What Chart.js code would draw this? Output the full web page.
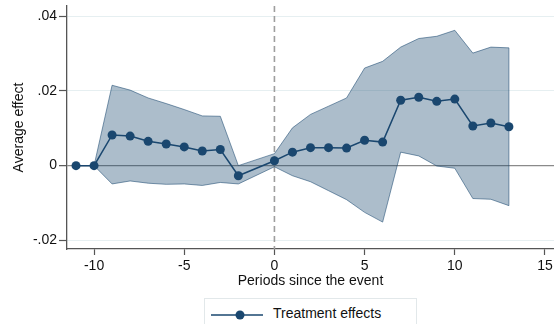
<!DOCTYPE html>
<html>
<head>
<meta charset="utf-8">
<script src="https://cdn.jsdelivr.net/npm/chart.js@4.4.1/dist/chart.umd.min.js"></script>
<style>
  html, body { margin: 0; padding: 0; background: #ffffff; }
  #wrap { position: relative; width: 554px; height: 324px; overflow: hidden; }
  #c { position: absolute; left: 0; top: 0; }
  #legend {
    position: absolute; left: 204px; top: 298px; width: 213px; height: 34px;
    border: 1px solid #e2e8ea; box-sizing: border-box; background: #fff;
    font-family: 'Liberation Sans', Arial, sans-serif; font-size: 14px; color: #111;
  }
  #legend svg { position: absolute; left: 5px; top: 10px; }
  #legend span { position: absolute; left: 68px; top: 6px; white-space: nowrap; }
</style>
</head>
<body>
<div id="wrap">
  <canvas id="c" width="554" height="324" style="width:554px;height:324px"></canvas>
  <div id="legend"></div>
</div>
<script>
// ---- data ----
const periods   = [-11, -10, -9, -8, -7, -6, -5, -4, -3, -2, 0, 1, 2, 3, 4, 5, 6, 7, 8, 9, 10, 11, 12, 13];
const effects   = [0, 0, 0.0082, 0.0079, 0.0065, 0.0058, 0.0050, 0.0039, 0.0043, -0.0027,
                   0.0013, 0.0036, 0.0048, 0.0048, 0.0047, 0.0068, 0.0063, 0.0175, 0.0183, 0.0172, 0.0178, 0.0106, 0.0114, 0.0104];
const ciPeriods = [-10, -9, -8, -7, -6, -5, -4, -3, -2, 0, 1, 2, 3, 4, 5, 6, 7, 8, 9, 10, 11, 12, 13];
const ciUpper   = [0, 0.0215, 0.0202, 0.0181, 0.0166, 0.0150, 0.0133, 0.0132, 0.0000,
                   0.0032, 0.0101, 0.0137, 0.0159, 0.0181, 0.0261, 0.0279, 0.0317, 0.0340, 0.0346, 0.0362, 0.0301, 0.0317, 0.0315];
const ciLower   = [0, -0.0049, -0.0041, -0.0047, -0.0050, -0.0049, -0.0053, -0.0045, -0.0049,
                   -0.0003, -0.0027, -0.0043, -0.0067, -0.0091, -0.0125, -0.0151, 0.0036, 0.0026, -0.0001, -0.0007, -0.0088, -0.0090, -0.0107];
const xTicks      = [-10, -5, 0, 5, 10, 15];
const xTickLabels = ['-10', '-5', '0', '5', '10', '15'];
const yTicks      = [-0.02, 0, 0.02, 0.04];
const yTickLabels = ['-.02', '0', '.02', '.04'];
const eventPeriod = 0;
const seriesLabel = 'Treatment effects';

// ---- styling ----
const NAVY = '#1a476f';
const FONT = "'Liberation Sans', Arial, sans-serif";
const zip = (xs, ys) => xs.map((x, i) => ({ x: x, y: ys[i] }));
const lastIdx = ciPeriods.length - 1;

const eventLine = {
  id: 'eventLine',
  beforeDatasetsDraw(chart) {
    const { ctx, chartArea, scales } = chart;
    const x = scales.x.getPixelForValue(eventPeriod);
    ctx.save();
    ctx.strokeStyle = '#9e9e9e';
    ctx.lineWidth = 1.6;
    ctx.setLineDash([6, 4]);
    ctx.beginPath();
    ctx.moveTo(x, chartArea.top);
    ctx.lineTo(x, chartArea.bottom);
    ctx.stroke();
    ctx.restore();
  }
};

const chart = new Chart(document.getElementById('c'), {
  type: 'line',
  data: {
    datasets: [
      {
        label: 'lower', data: zip(ciPeriods, ciLower), order: 3,
        borderColor: 'rgba(26,71,111,0.55)', borderWidth: 1, pointRadius: 0, fill: false, tension: 0
      },
      {
        label: 'upper', data: zip(ciPeriods, ciUpper), order: 2,
        borderColor: 'rgba(26,71,111,0.55)', borderWidth: 1, pointRadius: 0,
        backgroundColor: 'rgba(26,71,111,0.36)', fill: '-1', tension: 0
      },
      {
        label: 'edge',
        data: [{ x: ciPeriods[lastIdx], y: ciLower[lastIdx] }, { x: ciPeriods[lastIdx], y: ciUpper[lastIdx] }],
        order: 1, borderColor: 'rgba(26,71,111,0.55)', borderWidth: 1, pointRadius: 0, fill: false
      },
      {
        label: seriesLabel, data: zip(periods, effects), order: 0,
        borderColor: NAVY, borderWidth: 1.5, backgroundColor: NAVY,
        pointRadius: 4.5, pointBorderWidth: 0, pointBackgroundColor: NAVY, fill: false, tension: 0
      }
    ]
  },
  options: {
    responsive: false,
    animation: false,
    devicePixelRatio: 1,
    layout: { autoPadding: false, padding: { top: 6, right: 0, bottom: 34, left: 0 } },
    plugins: { legend: { display: false }, tooltip: { enabled: false } },
    scales: {
      x: {
        type: 'linear', min: -11.5, max: 15.5,
        afterBuildTicks: (s) => { s.ticks = xTicks.map(v => ({ value: v })); },
        afterFit: (s) => { s.height = 41; s.paddingLeft = 0; s.paddingRight = 0; },
        ticks: {
          font: { family: FONT, size: 14 }, color: '#111', padding: 3, maxRotation: 0,
          callback: (v) => xTickLabels[xTicks.indexOf(v)]
        },
        grid: { drawOnChartArea: false, tickColor: '#555', tickLength: 6, tickWidth: 1.2 },
        border: { display: true, color: '#555', width: 1.3 },
        title: { display: true, text: 'Periods since the event', font: { family: FONT, size: 14 }, color: '#111', padding: { top: 0, bottom: 0 } }
      },
      y: {
        type: 'linear', min: -0.0223, max: 0.0427,
        afterBuildTicks: (s) => { s.ticks = yTicks.map(v => ({ value: v })); },
        afterFit: (s) => { s.width = 67; s.paddingTop = 0; s.paddingBottom = 0; },
        ticks: {
          font: { family: FONT, size: 14 }, color: '#111', padding: 2,
          callback: (v) => yTickLabels[yTicks.indexOf(v)]
        },
        grid: {
          color: (c) => (c.tick && c.tick.value === 0) ? '#8a8a8a' : '#e6eff1',
          lineWidth: (c) => (c.tick && c.tick.value === 0) ? 1.3 : 1,
          tickColor: '#555', tickLength: 8, tickWidth: 1.2
        },
        border: { display: true, color: '#555', width: 1.3 },
        title: { display: true, text: 'Average effect', font: { family: FONT, size: 14 }, color: '#111', padding: { top: 11, bottom: 0 } }
      }
    }
  },
  plugins: [eventLine]
});

// HTML legend built from the chart's own series
(function () {
  const ds = chart.data.datasets.find(d => d.label === seriesLabel);
  const lg = document.getElementById('legend');
  const c = ds.borderColor;
  lg.innerHTML =
    '<svg width="54" height="12" viewBox="0 0 54 12">' +
    '<line x1="1" y1="6" x2="53" y2="6" stroke="' + c + '" stroke-width="1.5"/>' +
    '<circle cx="30" cy="6" r="4.5" fill="' + ds.pointBackgroundColor + '"/></svg>' +
    '<span>' + ds.label + '</span>';
})();
</script>
</body>
</html>
